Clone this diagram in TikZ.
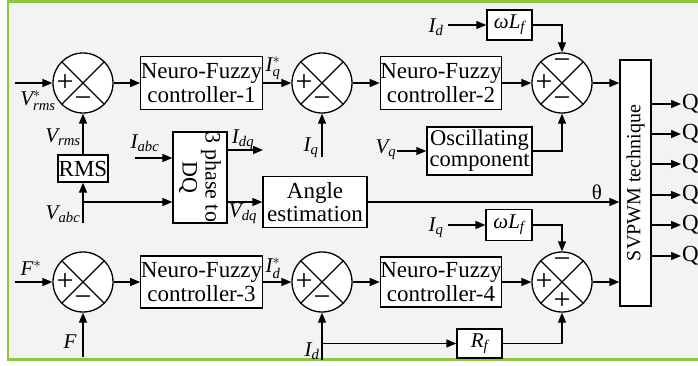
\documentclass[tikz,border=0pt]{standalone}
\usepackage{amsmath}
\usepackage{fontspec}
\setmainfont{Liberation Serif}
\usetikzlibrary{arrows.meta,calc}
\newcommand{\fsz}[2]{\fontsize{#1}{#2}\selectfont}
\definecolor{grn}{HTML}{8DC63F}
\definecolor{bgc}{HTML}{F2F3F2}
\tikzset{
 ln/.style={line width=1.3pt},
 arr/.style={ln,-{Triangle[length=10pt,width=8pt]}},
 blk/.style={draw,ln,fill=white,inner sep=0pt,align=center,font=\fsz{23}{23.5}},
 sumc/.style={circle,draw,ln,fill=white,minimum size=60pt,inner sep=0pt,
   path picture={\draw[ln] (path picture bounding box.north west)--(path picture bounding box.south east)
     (path picture bounding box.north east)--(path picture bounding box.south west);}},
 sgn/.style={inner sep=0pt,font=\fsz{30}{30}},
 lbl/.style={inner sep=0pt,font=\fsz{21}{22}},
}
\begin{document}
\begin{tikzpicture}[x=1pt,y=-1pt]
\useasboundingbox (0,0) rectangle (698,366);
\fill[white] (0,0) rectangle (698,366);
\draw[line width=2.5pt,draw=grn,fill=bgc] (8,1.5) rectangle (712,359.5);

% summing junctions
\node[sumc] (S1) at (83,83) {};
\node[sumc] (S2) at (322,83) {};
\node[sumc] (S3) at (562,83) {};
\node[sumc] (S4) at (83,282) {};
\node[sumc] (S5) at (322,282) {};
\node[sumc] (S6) at (562,282) {};
% signs
\foreach \s in {S1,S2,S4,S5}{
  \node[sgn] at ([xshift=-18pt]\s.center) {+};
  \node[sgn] at ([yshift=-19pt]\s.center) {−};
}
\node[sgn] at ([xshift=-18pt]S3.center) {+};
\node[sgn] at ([yshift=19pt]S3.center) {−};
\node[sgn] at ([yshift=-19pt]S3.center) {−};
\node[sgn] at ([xshift=-18pt]S6.center) {+};
\node[sgn] at ([yshift=19pt]S6.center) {−};
\node[sgn] at ([yshift=-19pt]S6.center) {+};

% blocks
\node[blk,minimum width=117pt,minimum height=53pt] (NF1) at (201.5,83) {Neuro-Fuzzy\\controller-1};
\node[blk,minimum width=118pt,minimum height=53pt] (NF2) at (441,83) {Neuro-Fuzzy\\controller-2};
\node[blk,minimum width=117pt,minimum height=52pt] (NF3) at (201.5,282) {Neuro-Fuzzy\\controller-3};
\node[blk,minimum width=118pt,minimum height=50pt] (NF4) at (441,282) {Neuro-Fuzzy\\controller-4};
\node[blk,minimum width=50pt,minimum height=27pt] (RMS) at (83,168.5) {RMS};
\node[blk,minimum width=54pt,minimum height=91pt] (P3) at (200,177.5) {};
\node[inner sep=0pt,align=center,rotate=-90,font=\fsz{22}{23}] at (P3.center) {3 phase to\\DQ};
\node[blk,minimum width=104pt,minimum height=51pt] (AE) at (315,202) {Angle\\estimation};
\node[blk,minimum width=45pt,minimum height=30pt,font=\fsz{21}{22}] (Wt) at (509.5,25) {\textit{ω}\textit{L}$_{\textit{f}}$};
\node[blk,minimum width=46pt,minimum height=31pt,font=\fsz{21}{22}] (Wb) at (509,225) {\textit{ω}\textit{L}$_{\textit{f}}$};
\node[blk,minimum width=105pt,minimum height=48pt,font=\fsz{22.5}{21}] (OSC) at (479.5,151) {Oscillating\\component};
\node[blk,minimum width=45pt,minimum height=29pt,font=\fsz{21}{22}] (RF) at (479.5,343.5) {\textit{R}$_{\textit{f}}$};
\node[draw,ln,fill=white,minimum width=31pt,minimum height=246pt,inner sep=0pt] (SV) at (635.5,183) {};
\node[inner sep=0pt,rotate=90,font=\fsz{20}{21}] at (SV.center) {SVPWM technique};

% free ends
\coordinate (vin) at (15,83);
\coordinate (fin) at (15,282);
\coordinate (fb) at (83,357);
\coordinate (vabc) at (83,223);
\coordinate (vj) at (83,202);
\coordinate (iabc) at (135,158);
\coordinate (idqe) at (263,150);
\coordinate (iq1) at (322,157);
\coordinate (id2) at (322,360);
\coordinate (idj) at (322,343.5);
\coordinate (idt) at (448,25);
\coordinate (iqb) at (448,225);
\coordinate (vq) at (397,151);

% top row
\draw[arr] (vin) -- (S1);
\draw[arr] (S1) -- (NF1);
\draw[arr] (NF1) -- (S2);
\draw[arr] (S2) -- (NF2);
\draw[arr] (NF2) -- (S3);
\draw[arr] (S3) -- (S3 -| SV.west);
\draw[arr] (RMS) -- (S1);
\draw[arr] (iq1) -- (S2);
\draw[arr] (idt) -- (Wt);
\draw[arr] (Wt.east) -| (S3.north);
\draw[arr] (vq) -- (OSC);
\draw[arr] (OSC.east) -| (S3.south);

% middle
\draw[arr] (vabc) -- (RMS);
\draw[arr] (vj) -- (vj -| P3.west);
\draw[arr] (iabc) -- (iabc -| P3.west);
\draw[arr] (idqe -| P3.east) -- (idqe);
\draw[arr] (vj -| P3.east) -- (AE);
\draw[arr] (AE) -- (AE -| SV.west);

% bottom row
\draw[arr] (fin) -- (S4);
\draw[arr] (fb) -- (S4);
\draw[arr] (S4) -- (NF3);
\draw[arr] (NF3) -- (S5);
\draw[arr] (S5) -- (NF4);
\draw[arr] (NF4) -- (S6);
\draw[arr] (S6) -- (S6 -| SV.west);
\draw[arr] (id2) -- (S5);
\draw[arr] (idj) -- (RF);
\draw[arr] (RF.east) -| (S6.south);
\draw[arr] (iqb) -- (Wb);
\draw[arr] (Wb.east) -| (S6.north);

% outputs
\foreach \yy in {104,134,164,195,225,256}{
  \coordinate (o\yy) at (681,\yy);
  \draw[arr] (o\yy -| SV.east) -- (o\yy);
  \node[anchor=west,inner sep=0pt,font=\fsz{23}{23}] at ([xshift=1pt]o\yy) {Q};
}

% labels
\node[lbl] at (38,101) {$\textit{V}^{*}_{\textit{rms}}$};
\node[lbl] at (63,137) {$\textit{V}_{\textit{rms}}$};
\node[lbl] at (145,143) {$\textit{I}_{\textit{abc}}$};
\node[lbl] at (243,140) {$\textit{I}_{\textit{dq}}$};
\node[lbl] at (243,214) {$\textit{V}_{\textit{dq}}$};
\node[lbl] at (63,214) {$\textit{V}_{\textit{abc}}$};
\node[lbl] at (273,68) {$\textit{I}^{*}_{\textit{q}}$};
\node[lbl] at (273,268) {$\textit{I}^{*}_{\textit{d}}$};
\node[lbl] at (311,148) {$\textit{I}_{\textit{q}}$};
\node[lbl] at (312,351) {$\textit{I}_{\textit{d}}$};
\node[lbl] at (436,27) {$\textit{I}_{\textit{d}}$};
\node[lbl] at (436,228) {$\textit{I}_{\textit{q}}$};
\node[lbl] at (386,150) {$\textit{V}_{\textit{q}}$};
\node[lbl] at (597,192) {θ};
\node[lbl] at (31,268) {$\textit{F}^{*}$};
\node[lbl] at (70,342) {\textit{F}};
\end{tikzpicture}
\end{document}
